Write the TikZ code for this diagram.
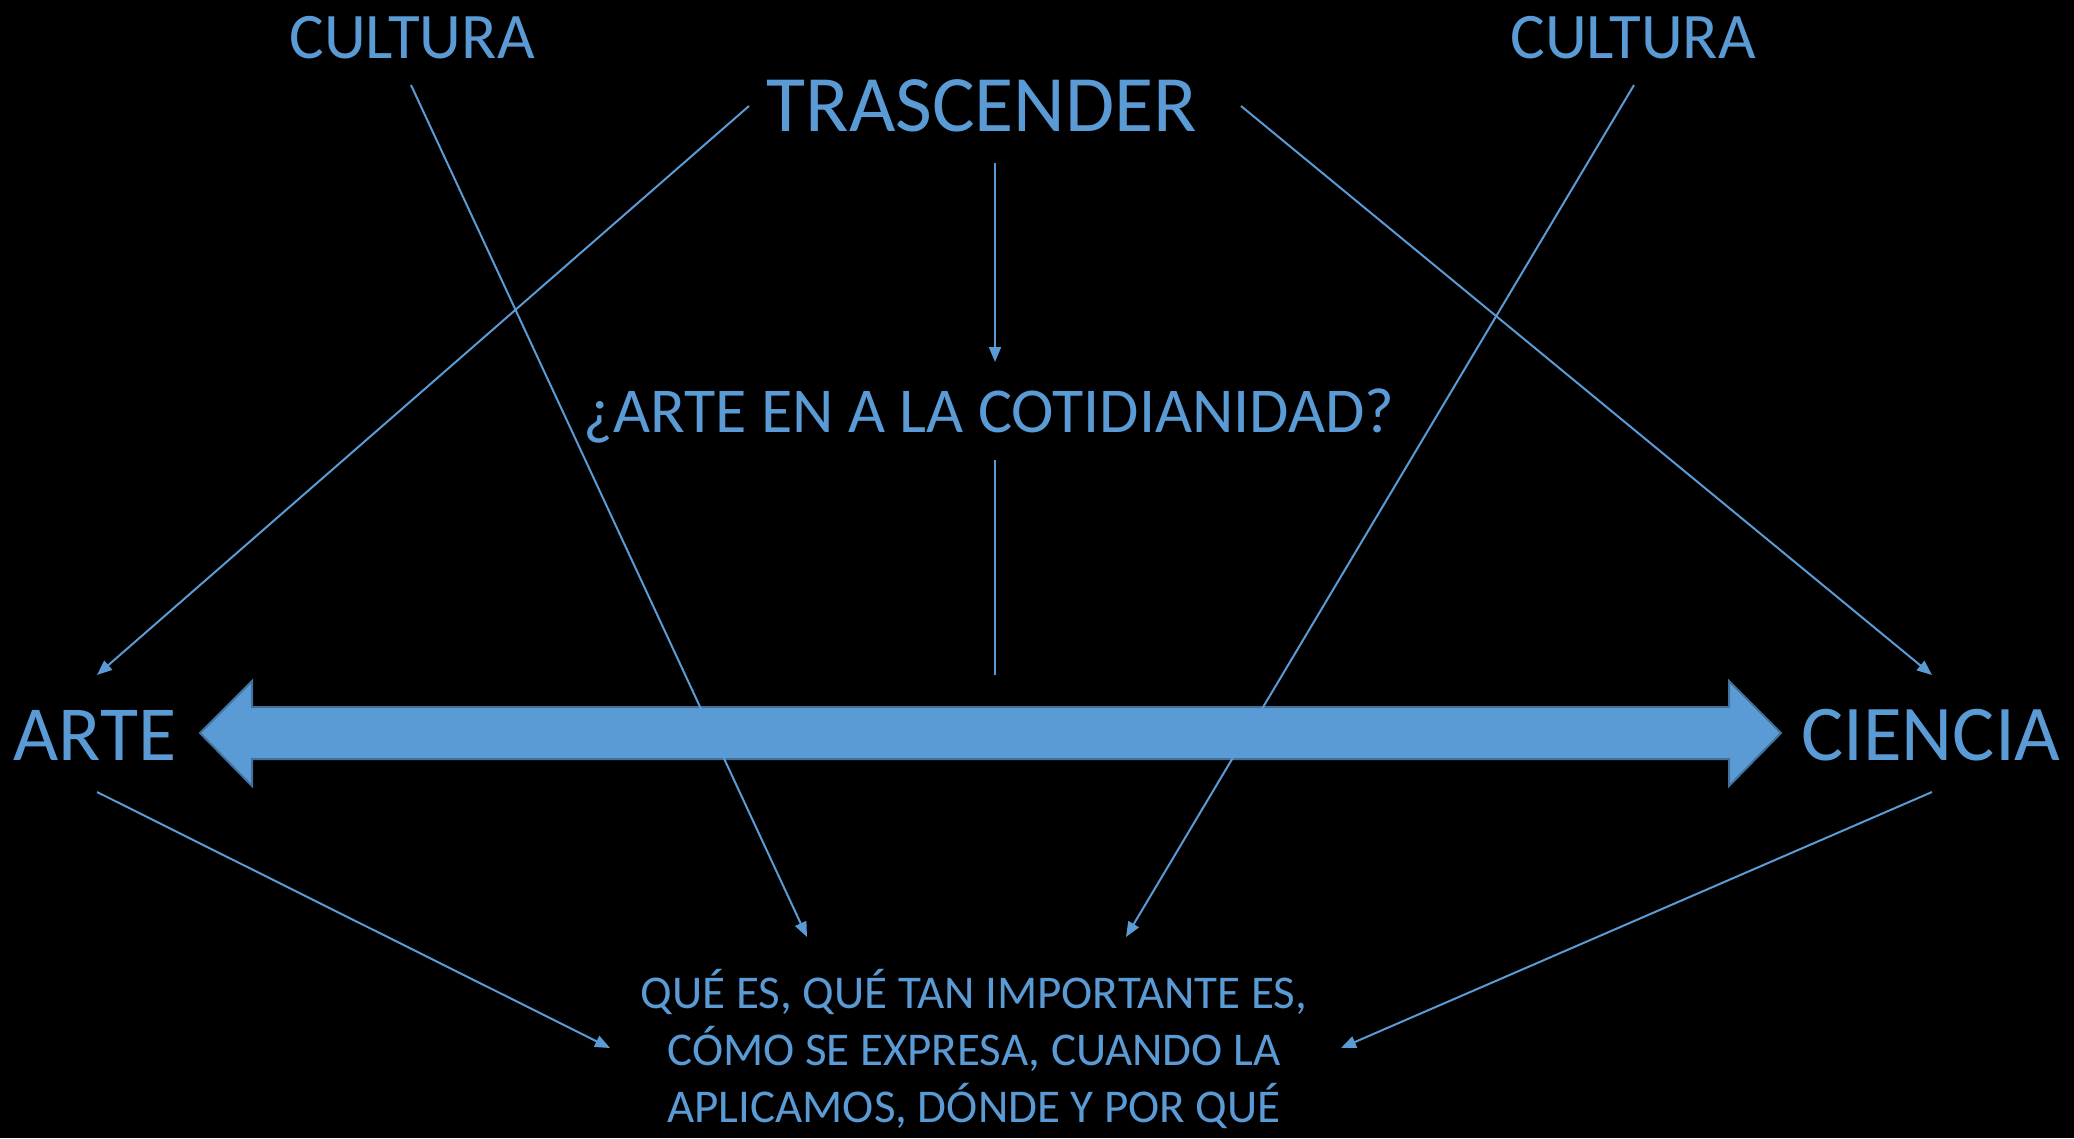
\documentclass[tikz,border=0pt]{standalone}
\usepackage{fontspec}
\setmainfont{Carlito}
\usetikzlibrary{arrows.meta}
\definecolor{officeblue}{HTML}{5B9BD5}
\definecolor{officeedge}{HTML}{41719C}
\tikzset{
  lbl/.style={text=officeblue, inner sep=0pt, anchor=base},
  conn/.style={draw=officeblue, line width=2pt},
  arr/.style={conn, -{Triangle[length=15pt,width=12pt]}},
}
\begin{document}
\begin{tikzpicture}[x=1pt,y=-1pt]
\fill[black] (0,0) rectangle (2074,1138);
\useasboundingbox (0,0) rectangle (2074,1138);
% labels
\node[lbl, font=\fontsize{65}{78}\selectfont] (cultL) at (412,58) {CULTURA};
\node[lbl, font=\fontsize{65}{78}\selectfont] (cultR) at (1633,58) {CULTURA};
\node[lbl, font=\fontsize{80}{96}\selectfont] (tras) at (982,131) {TRASCENDER};
\node[lbl, font=\fontsize{64}{77}\selectfont] (quest) at (989,432) {¿ARTE EN A LA COTIDIANIDAD?};
\node[lbl, font=\fontsize{78}{94}\selectfont] (arte) at (95,760) {ARTE};
\node[lbl, font=\fontsize{79}{95}\selectfont] (ciencia) at (1931,760) {CIENCIA};
\node[lbl, font=\fontsize{47}{57}\selectfont, align=center] (bottom) at (974,1122)
  {QUÉ ES, QUÉ TAN IMPORTANTE ES,\\CÓMO SE EXPRESA, CUANDO LA\\APLICAMOS, DÓNDE Y POR QUÉ};
% big double arrow
\filldraw[fill=officeblue, draw=officeedge, line width=2pt, line join=miter]
  (200,733) -- (252,681) -- (252,707) -- (1729,707) -- (1729,681) -- (1781,733)
  -- (1729,786) -- (1729,759) -- (252,759) -- (252,786) -- cycle;
% connector end points
\coordinate (trasL) at (749,106);
\coordinate (trasR) at (1241,106);
\coordinate (trasB) at (995,163);
\coordinate (questT) at (995,362);
\coordinate (questB) at (995,460);
\coordinate (barT) at (995,675);
\coordinate (arteT) at (97,675);
\coordinate (arteB) at (97,792);
\coordinate (cienT) at (1932,675);
\coordinate (cienB) at (1932,792);
\coordinate (cultLB) at (411,85);
\coordinate (cultRB) at (1634,85);
\coordinate (botTL) at (807,937);
\coordinate (botTR) at (1126,937);
\coordinate (botL) at (610,1048);
\coordinate (botR) at (1341,1048);
% connectors
\draw[arr] (trasL) -- (arteT);
\draw[arr] (trasR) -- (cienT);
\draw[arr] (trasB) -- (questT);
\draw[conn] (questB) -- (barT);
\draw[arr] (cultLB) -- (botTL);
\draw[arr] (cultRB) -- (botTR);
\draw[arr] (arteB) -- (botL);
\draw[arr] (cienB) -- (botR);
\end{tikzpicture}
\end{document}
